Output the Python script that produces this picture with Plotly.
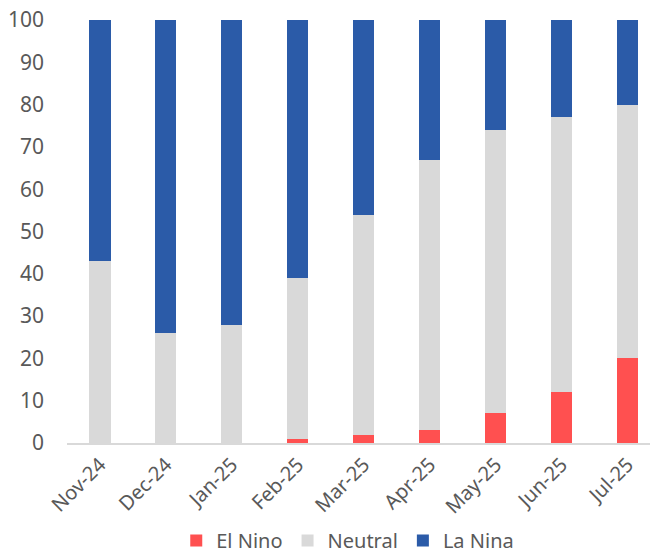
import plotly.graph_objects as go

months = ["Nov-24", "Dec-24", "Jan-25", "Feb-25", "Mar-25", "Apr-25", "May-25", "Jun-25", "Jul-25"]
el_nino = [0, 0, 0, 1, 2, 3, 7, 12, 20]
neutral = [43, 26, 28, 38, 52, 64, 67, 65, 60]
la_nina = [57, 74, 72, 61, 46, 33, 26, 23, 20]

font_family = "Noto Sans"
text_color = "#595959"

fig = go.Figure()
series = [("El Nino", el_nino, "#FF5050"), ("Neutral", neutral, "#D9D9D9"), ("La Nina", la_nina, "#2B5BA8")]
for name, vals, col in series:
    fig.add_trace(go.Bar(x=months, y=vals, name=name, marker=dict(color=col, line=dict(width=0))))

fig.update_layout(
    barmode="stack",
    bargap=0.68,
    width=650, height=556,
    margin=dict(l=67, r=0, t=20, b=113, autoexpand=False),
    plot_bgcolor="white", paper_bgcolor="white",
    font=dict(family=font_family, size=21, color=text_color),
    showlegend=True,
    legend=dict(orientation="h", x=0.535, xanchor="center", xref="container",
                y=0.028, yanchor="middle", yref="container",
                traceorder="normal",
                font=dict(size=20, color=text_color), itemwidth=30, tracegroupgap=0),
    xaxis=dict(range=[-0.5, 8.34], tickangle=-45, showline=True, linecolor="#D9D9D9", linewidth=2,
               ticks="", automargin=False, tickfont=dict(size=20, color=text_color), fixedrange=True),
    yaxis=dict(range=[0, 100], dtick=10, showgrid=False, zeroline=False, showline=False,
               automargin=False,
               ticks="", ticklabelstandoff=22, tickfont=dict(size=21, color=text_color), fixedrange=True),
)

fig.write_html("out.html")
